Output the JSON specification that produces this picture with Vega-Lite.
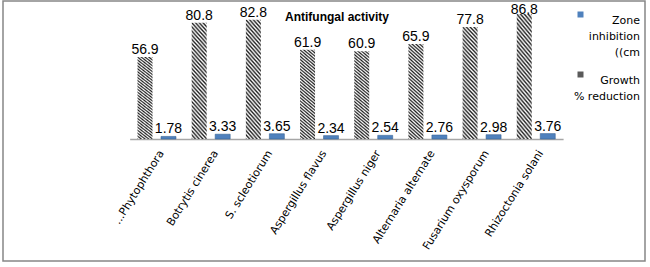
{
  "$schema": "https://vega.github.io/schema/vega-lite/v6.json",
  "width": 642,
  "height": 260,
  "autosize": {"type": "none"},
  "padding": {"left": 3, "top": 1, "right": 5, "bottom": 6},
  "background": "white",
  "config": {"view": {"stroke": "#868686", "strokeWidth": 1.5}, "font": "DejaVu Sans", "style": {"guide-label": {"lineHeight": 16}}},
  "title": {"text": "Antifungal activity", "font": "Liberation Sans", "fontSize": 12, "fontWeight": "bold", "color": "#000000", "anchor": "middle", "dx": 13, "offset": -23},
  "datasets": {
    "fungi": [
      {"fungus": "...Phytophthora", "series": "Growth % reduction", "value": 56.9},
      {"fungus": "...Phytophthora", "series": "Zone inhibition ((cm", "value": 1.78},
      {"fungus": "Botrytis cinerea", "series": "Growth % reduction", "value": 80.8},
      {"fungus": "Botrytis cinerea", "series": "Zone inhibition ((cm", "value": 3.33},
      {"fungus": "S. scleotiorum", "series": "Growth % reduction", "value": 82.8},
      {"fungus": "S. scleotiorum", "series": "Zone inhibition ((cm", "value": 3.65},
      {"fungus": "Aspergillus flavus", "series": "Growth % reduction", "value": 61.9},
      {"fungus": "Aspergillus flavus", "series": "Zone inhibition ((cm", "value": 2.34},
      {"fungus": "Aspergillus niger", "series": "Growth % reduction", "value": 60.9},
      {"fungus": "Aspergillus niger", "series": "Zone inhibition ((cm", "value": 2.54},
      {"fungus": "Alternaria alternate", "series": "Growth % reduction", "value": 65.9},
      {"fungus": "Alternaria alternate", "series": "Zone inhibition ((cm", "value": 2.76},
      {"fungus": "Fusarium oxysporum", "series": "Growth % reduction", "value": 77.8},
      {"fungus": "Fusarium oxysporum", "series": "Zone inhibition ((cm", "value": 2.98},
      {"fungus": "Rhizoctonia solani", "series": "Growth % reduction", "value": 86.8},
      {"fungus": "Rhizoctonia solani", "series": "Zone inhibition ((cm", "value": 3.76}
    ]
  },
  "data": {"name": "fungi"},
  "resolve": {"scale": {"y": "independent"}},
  "encoding": {
    "x": {
      "field": "fungus", "type": "nominal",
      "scale": {"domain": ["...Phytophthora", "Botrytis cinerea", "S. scleotiorum", "Aspergillus flavus", "Aspergillus niger", "Alternaria alternate", "Fusarium oxysporum", "Rhizoctonia solani"], "range": [126.66, 560.1], "paddingInner": 0, "paddingOuter": 0},
      "axis": {"orient": "bottom", "offset": -122, "domain": true, "domainColor": "#a6a6a6", "domainWidth": 1.5, "ticks": false, "grid": false, "labelAngle": -58, "labelAlign": "right", "labelBaseline": "middle", "labelFont": "DejaVu Sans", "labelFontSize": 11, "labelColor": "#000000", "labelPadding": 12, "labelOffset": 5, "labelLimit": 200, "title": null, "zindex": 0}
    },
    "xOffset": {"field": "series", "type": "nominal", "scale": {"domain": ["Growth % reduction", "Zone inhibition ((cm"], "paddingInner": 0.362, "paddingOuter": 0.334}}
  },
  "layer": [
    {
      "transform": [{"filter": "datum.series === 'Zone inhibition ((cm'"}],
      "mark": {"type": "bar", "stroke": "#3c6696", "strokeWidth": 0.6},
      "encoding": {
        "y": {"field": "value", "type": "quantitative", "scale": {"domain": [-84.72, 95.83], "nice": false}, "axis": null},
        "y2": {"datum": 0},
        "color": {
          "field": "series", "type": "nominal",
          "scale": {"domain": ["Zone inhibition ((cm", "Growth % reduction"], "range": ["#4F81BD", "#5a5a5a"]},
          "legend": {
            "orient": "none", "legendX": 572, "legendY": 8, "title": null, "padding": 0,
            "symbolType": "square", "symbolSize": 36, "symbolStrokeWidth": 0,
            "labelFont": "DejaVu Sans", "labelFontSize": 11, "labelColor": "#000000",
            "labelAlign": "right", "labelOffset": 54, "labelBaseline": "top", "labelLimit": 200,
            "rowPadding": 11,
            "labelExpr": "datum.value == 'Zone inhibition ((cm' ? ['Zone', 'inhibition', '((cm'] : ['Growth', '% reduction']",
            "encode": {"labels": {"update": {"lineHeight": {"value": 16}}}}
          }
        }
      }
    },
    {
      "transform": [{"filter": "datum.series === 'Growth % reduction'"}],
      "mark": {
        "type": "bar",
        "fill": {
          "gradient": "linear", "x1": 0, "y1": 1, "x2": 0.16, "y2": -0.12,
          "stops": [
            {"offset": 0, "color": "#202020"}, {"offset": 0.0156, "color": "#ffffff"},
            {"offset": 0.0313, "color": "#202020"}, {"offset": 0.0469, "color": "#ffffff"},
            {"offset": 0.0625, "color": "#202020"}, {"offset": 0.0781, "color": "#ffffff"},
            {"offset": 0.0938, "color": "#202020"}, {"offset": 0.1094, "color": "#ffffff"},
            {"offset": 0.125, "color": "#202020"}, {"offset": 0.1406, "color": "#ffffff"},
            {"offset": 0.1563, "color": "#202020"}, {"offset": 0.1719, "color": "#ffffff"},
            {"offset": 0.1875, "color": "#202020"}, {"offset": 0.2031, "color": "#ffffff"},
            {"offset": 0.2188, "color": "#202020"}, {"offset": 0.2344, "color": "#ffffff"},
            {"offset": 0.25, "color": "#202020"}, {"offset": 0.2656, "color": "#ffffff"},
            {"offset": 0.2813, "color": "#202020"}, {"offset": 0.2969, "color": "#ffffff"},
            {"offset": 0.3125, "color": "#202020"}, {"offset": 0.3281, "color": "#ffffff"},
            {"offset": 0.3438, "color": "#202020"}, {"offset": 0.3594, "color": "#ffffff"},
            {"offset": 0.375, "color": "#202020"}, {"offset": 0.3906, "color": "#ffffff"},
            {"offset": 0.4063, "color": "#202020"}, {"offset": 0.4219, "color": "#ffffff"},
            {"offset": 0.4375, "color": "#202020"}, {"offset": 0.4531, "color": "#ffffff"},
            {"offset": 0.4688, "color": "#202020"}, {"offset": 0.4844, "color": "#ffffff"},
            {"offset": 0.5, "color": "#202020"}, {"offset": 0.5156, "color": "#ffffff"},
            {"offset": 0.5313, "color": "#202020"}, {"offset": 0.5469, "color": "#ffffff"},
            {"offset": 0.5625, "color": "#202020"}, {"offset": 0.5781, "color": "#ffffff"},
            {"offset": 0.5938, "color": "#202020"}, {"offset": 0.6094, "color": "#ffffff"},
            {"offset": 0.625, "color": "#202020"}, {"offset": 0.6406, "color": "#ffffff"},
            {"offset": 0.6563, "color": "#202020"}, {"offset": 0.6719, "color": "#ffffff"},
            {"offset": 0.6875, "color": "#202020"}, {"offset": 0.7031, "color": "#ffffff"},
            {"offset": 0.7188, "color": "#202020"}, {"offset": 0.7344, "color": "#ffffff"},
            {"offset": 0.75, "color": "#202020"}, {"offset": 0.7656, "color": "#ffffff"},
            {"offset": 0.7813, "color": "#202020"}, {"offset": 0.7969, "color": "#ffffff"},
            {"offset": 0.8125, "color": "#202020"}, {"offset": 0.8281, "color": "#ffffff"},
            {"offset": 0.8438, "color": "#202020"}, {"offset": 0.8594, "color": "#ffffff"},
            {"offset": 0.875, "color": "#202020"}, {"offset": 0.8906, "color": "#ffffff"},
            {"offset": 0.9063, "color": "#202020"}, {"offset": 0.9219, "color": "#ffffff"},
            {"offset": 0.9375, "color": "#202020"}, {"offset": 0.9531, "color": "#ffffff"},
            {"offset": 0.9688, "color": "#202020"}, {"offset": 0.9844, "color": "#ffffff"},
            {"offset": 1, "color": "#202020"}
          ]
        }
      },
      "encoding": {
        "y": {"field": "value", "type": "quantitative", "scale": {"domain": [-84.72, 95.83], "nice": false}, "axis": null},
        "y2": {"datum": 0}
      }
    },
    {
      "mark": {"type": "text", "baseline": "alphabetic", "dy": -3, "font": "Liberation Sans", "fontSize": 14, "color": "#000000"},
      "encoding": {
        "y": {"field": "value", "type": "quantitative", "scale": {"domain": [-84.72, 84.7], "range": [260, 16.03], "clamp": true, "nice": false, "zero": false}, "axis": null},
        "text": {"field": "value", "type": "quantitative", "format": ".3~g"}
      }
    }
  ]
}
